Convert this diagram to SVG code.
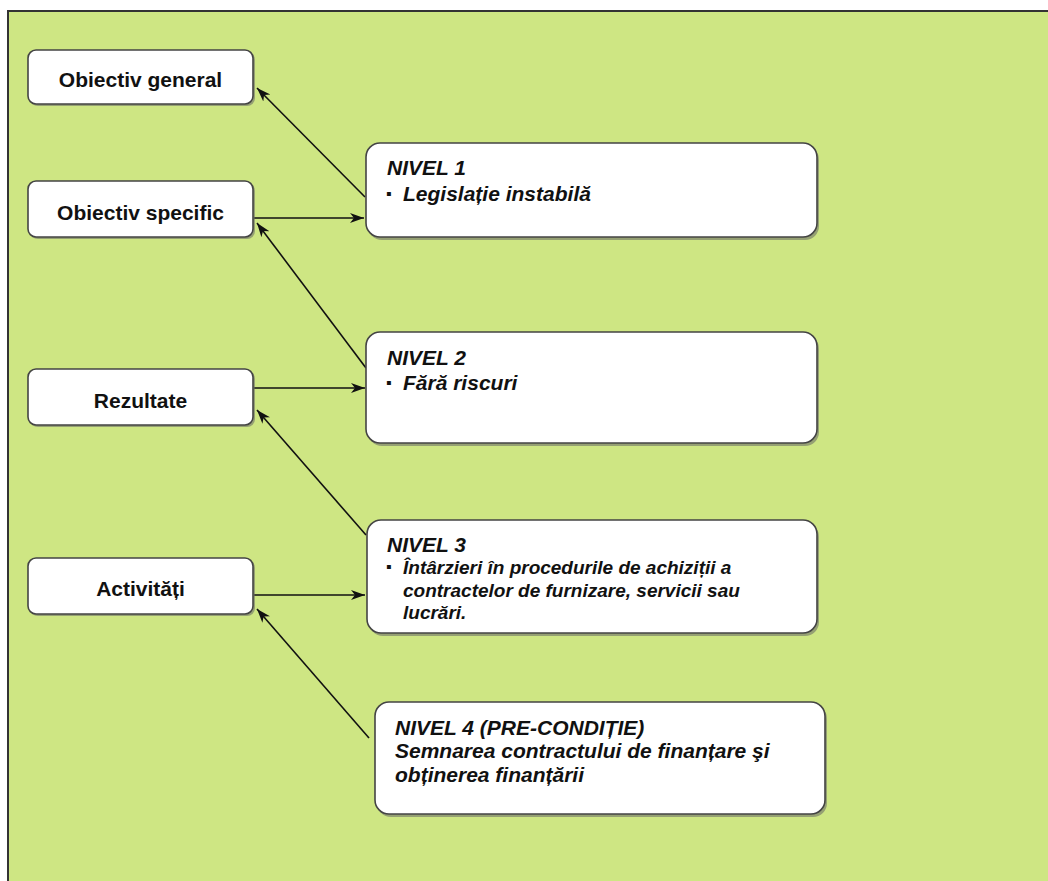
<svg xmlns="http://www.w3.org/2000/svg" width="1048" height="881" viewBox="0 0 1048 881">
<style>
.bg{fill:#cee683;stroke:#333;stroke-width:2}
.box{fill:#fff;stroke:#444;stroke-width:1.6}
.sh{fill:#666;opacity:0.55}
.lt{font-family:"Liberation Sans",Arial,sans-serif;font-weight:bold;font-size:21px;fill:#111;text-anchor:middle}
.rt{font-family:"Liberation Sans",Arial,sans-serif;font-weight:bold;font-style:italic;font-size:21px;fill:#111}
.rs{font-size:19px}
.bu{font-family:"Liberation Sans",Arial,sans-serif;font-size:16px;fill:#111}
.con{stroke:#111;stroke-width:1.6;fill:none;marker-end:url(#ah)}
</style>
<defs>
<marker id="ah" markerUnits="userSpaceOnUse" markerWidth="16" markerHeight="12" refX="14" refY="5" orient="auto" viewBox="0 0 16 10">
<path d="M0,0 L14,5 L0,10 L4,5 z" fill="#111"/>
</marker>
</defs>
<rect x="0" y="0" width="1048" height="881" fill="#fff"/>
<rect class="bg" x="8" y="11" width="1060" height="890"/>
<g id="connectors">
<line class="con" x1="365" y1="197" x2="257" y2="88"/>
<line class="con" x1="254" y1="218" x2="364" y2="218"/>
<line class="con" x1="366" y1="368" x2="257" y2="223"/>
<line class="con" x1="254" y1="388" x2="365" y2="388"/>
<line class="con" x1="366" y1="535" x2="257" y2="410"/>
<line class="con" x1="254" y1="595" x2="365" y2="595"/>
<line class="con" x1="369" y1="738" x2="257" y2="609"/>
</g>
<g id="obiectiv-general">
<rect class="sh" x="30" y="52" width="225" height="54" rx="8"/>
<rect class="box" x="28" y="50" width="225" height="54" rx="8"/>
<text class="lt" x="140.5" y="87">Obiectiv general</text>
</g>
<g id="obiectiv-specific">
<rect class="sh" x="30" y="183" width="225" height="56" rx="8"/>
<rect class="box" x="28" y="181" width="225" height="56" rx="8"/>
<text class="lt" x="140.5" y="220">Obiectiv specific</text>
</g>
<g id="rezultate">
<rect class="sh" x="30" y="371" width="225" height="56" rx="8"/>
<rect class="box" x="28" y="369" width="225" height="56" rx="8"/>
<text class="lt" x="140.5" y="408">Rezultate</text>
</g>
<g id="activitati">
<rect class="sh" x="30" y="560" width="225" height="56" rx="8"/>
<rect class="box" x="28" y="558" width="225" height="56" rx="8"/>
<text class="lt" x="140.5" y="596">Activități</text>
</g>
<g id="nivel1">
<rect class="sh" x="368" y="146" width="451" height="94" rx="14"/>
<rect class="box" x="366" y="143" width="451" height="94" rx="14"/>
<text class="rt" x="387" y="175">NIVEL 1</text>
<text class="bu" x="386" y="199">▪</text>
<text class="rt" x="403" y="201">Legislație instabilă</text>
</g>
<g id="nivel2">
<rect class="sh" x="368" y="335" width="451" height="111" rx="14"/>
<rect class="box" x="366" y="332" width="451" height="111" rx="14"/>
<text class="rt" x="387" y="365">NIVEL 2</text>
<text class="bu" x="386" y="388">▪</text>
<text class="rt" x="403" y="390">Fără riscuri</text>
</g>
<g id="nivel3">
<rect class="sh" x="369" y="523" width="450" height="113" rx="14"/>
<rect class="box" x="367" y="520" width="450" height="113" rx="14"/>
<text class="rt" x="387" y="552" font-size="20">NIVEL 3</text>
<text class="bu" x="386" y="572">▪</text>
<text class="rt rs" x="403" y="574">Întârzieri în procedurile de achiziții a</text>
<text class="rt rs" x="403" y="597">contractelor de furnizare, servicii sau</text>
<text class="rt rs" x="403" y="619">lucrări.</text>
</g>
<g id="nivel4">
<rect class="sh" x="377" y="705" width="450" height="112" rx="14"/>
<rect class="box" x="375" y="702" width="450" height="112" rx="14"/>
<text class="rt" x="395" y="735">NIVEL 4 (PRE-CONDIȚIE)</text>
<text class="rt" x="395" y="758">Semnarea contractului de finanțare şi</text>
<text class="rt" x="395" y="782">obținerea finanțării</text>
</g>
</svg>
